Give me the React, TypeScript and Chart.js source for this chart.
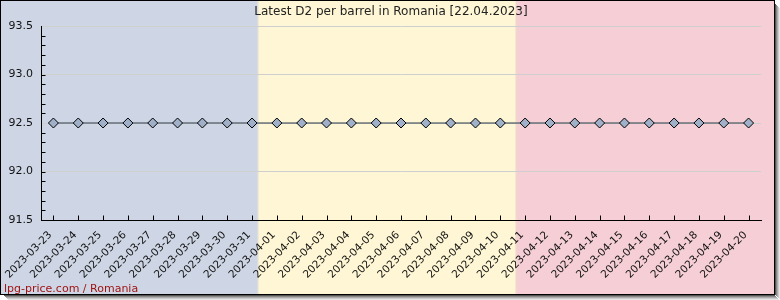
import React, { useEffect, useRef } from "react";
import { Chart, registerables } from "chart.js";

Chart.register(...registerables);

const dates = [
  "2023-03-23", "2023-03-24", "2023-03-25", "2023-03-26", "2023-03-27", "2023-03-28",
  "2023-03-29", "2023-03-30", "2023-03-31", "2023-04-01", "2023-04-02", "2023-04-03",
  "2023-04-04", "2023-04-05", "2023-04-06", "2023-04-07", "2023-04-08", "2023-04-09",
  "2023-04-10", "2023-04-11", "2023-04-12", "2023-04-13", "2023-04-14", "2023-04-15",
  "2023-04-16", "2023-04-17", "2023-04-18", "2023-04-19", "2023-04-20",
];
const prices = [
  92.5, 92.5, 92.5, 92.5, 92.5, 92.5, 92.5, 92.5, 92.5, 92.5, 92.5, 92.5, 92.5, 92.5, 92.5,
  92.5, 92.5, 92.5, 92.5, 92.5, 92.5, 92.5, 92.5, 92.5, 92.5, 92.5, 92.5, 92.5, 92.5,
];
const yMin = 91.5;
const yMax = 93.5;
const yMajorStep = 0.5;
const yMinorStep = 0.1;
const titleText = "Latest D2 per barrel in Romania [22.04.2023]";
const watermark = "lpg-price.com / Romania";

const FONT = "'DejaVu Sans', sans-serif";
const W = 780;
const H = 300;
const BOX_W = 775;
const BOX_H = 295;

const decorPlugin = {
  id: "decor",
  beforeDraw(chart: any) {
    const ctx = chart.ctx;
    ctx.save();
    const shades = ["#555", "#888", "#aaa", "#ccc", "#e6e6e6"];
    for (let i = 0; i < shades.length; i++) {
      ctx.fillStyle = shades[i];
      ctx.fillRect(BOX_W + i, 4 + i, 1, BOX_H - 4);
      ctx.fillRect(4 + i, BOX_H + i, BOX_W - 4, 1);
    }
    const third = (BOX_W - 1) / 3;
    ctx.fillStyle = "#ced6e5";
    ctx.fillRect(0, 0, third, BOX_H);
    ctx.fillStyle = "#fef6d4";
    ctx.fillRect(third, 0, third, BOX_H);
    ctx.fillStyle = "#f5cfd5";
    ctx.fillRect(third * 2, 0, BOX_W - third * 2, BOX_H);
    ctx.fillStyle = "rgba(230,225,215,0.6)";
    ctx.fillRect(third - 1, 0, 2, BOX_H);
    ctx.fillStyle = "rgba(240,220,200,0.6)";
    ctx.fillRect(third * 2 - 1, 0, 2, BOX_H);
    ctx.strokeStyle = "#000";
    ctx.lineWidth = 1;
    ctx.strokeRect(0.5, 0.5, BOX_W - 1, BOX_H - 1);
    ctx.fillStyle = "#222";
    ctx.font = `12px ${FONT}`;
    ctx.textAlign = "center";
    ctx.textBaseline = "middle";
    ctx.fillText(titleText, 391, 12);
    ctx.fillStyle = "#a01414";
    ctx.font = `11px ${FONT}`;
    ctx.textAlign = "left";
    ctx.textBaseline = "alphabetic";
    ctx.fillText(watermark, 4, 292);

    const xs = chart.scales.x;
    const ys = chart.scales.y;
    const area = chart.chartArea;
    if (xs && ys && area) {
      ctx.strokeStyle = "#000";
      ctx.lineWidth = 1;
      ctx.beginPath();
      const ax = Math.round(area.left) + 0.5;
      const ay = Math.round(area.bottom) + 0.5;
      const n = Math.round((yMax - yMin) / yMinorStep);
      for (let i = 0; i <= n; i++) {
        const v = yMin + i * yMinorStep;
        const py = Math.round(ys.getPixelForValue(v)) + 0.5;
        ctx.moveTo(ax, py);
        ctx.lineTo(ax + 4, py);
      }
      for (let i = 0; i < dates.length; i++) {
        const px = Math.round(xs.getPixelForValue(i)) + 0.5;
        ctx.moveTo(px, ay);
        ctx.lineTo(px, ay - 5);
      }
      ctx.stroke();
    }
    ctx.restore();
  },
};

export default function App() {
  const ref = useRef<HTMLCanvasElement | null>(null);
  useEffect(() => {
    if (!ref.current) return;
    const chart = new Chart(ref.current, {
      type: "line",
      data: {
        labels: dates,
        datasets: [
          {
            data: prices,
            borderColor: "#2f3d48",
            borderWidth: 1,
            pointStyle: "rectRot",
            pointRadius: 5,
            pointBackgroundColor: "#a0b0c8",
            pointBorderColor: "#000",
            pointBorderWidth: 1,
            tension: 0,
          },
        ],
      },
      options: {
        responsive: false,
        animation: false,
        layout: { padding: { top: 26, left: 0, right: 19, bottom: 0 } },
        plugins: {
          legend: { display: false },
          title: { display: false },
          tooltip: { enabled: false },
        },
        scales: {
          x: {
            type: "category",
            offset: true,
            grid: { display: false, drawTicks: false },
            border: { display: true, color: "#000", width: 1 },
            ticks: {
              color: "#111",
              font: { family: FONT, size: 10.5 },
              minRotation: 45,
              maxRotation: 45,
              autoSkip: false,
              padding: 9,
              labelOffset: -3,
            },
            afterFit(scale: any) {
              scale.height = 80;
            },
          },
          y: {
            min: yMin,
            max: yMax,
            grid: {
              drawTicks: false,
              color: (c: any) => (c.tick && Math.abs(c.tick.value - yMin) < 1e-6 ? "rgba(0,0,0,0)" : "#cfcfcf"),
              lineWidth: 1,
            },
            border: { display: true, color: "#000", width: 1 },
            ticks: {
              stepSize: yMajorStep,
              color: "#111",
              font: { family: FONT, size: 11 },
              padding: 8,
              callback: (v: any) => Number(v).toFixed(1),
            },
            afterFit(scale: any) {
              scale.width = 41;
            },
          },
        },
      },
      plugins: [decorPlugin],
    });
    return () => chart.destroy();
  }, []);
  return (
    <div style={{ position: "fixed", left: 0, top: 0, width: W, height: H }}>
      <canvas ref={ref} width={W} height={H} style={{ width: W, height: H, display: "block" }} />
    </div>
  );
}
